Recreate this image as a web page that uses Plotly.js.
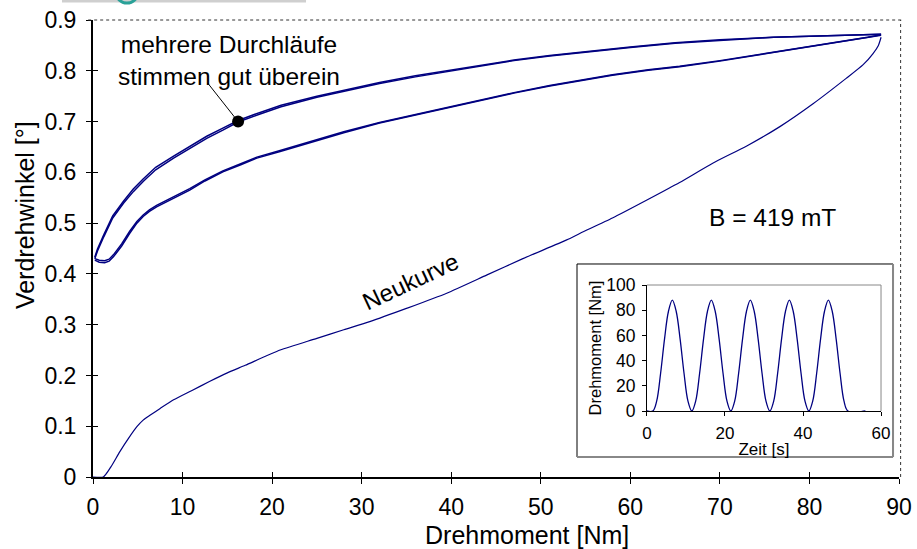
<!DOCTYPE html>
<html>
<head>
<meta charset="utf-8">
<script src="https://cdn.plot.ly/plotly-3.0.1.min.js"></script>
<style>html,body{margin:0;padding:0;background:#fff;}#chart{width:917px;height:549px;}</style>
</head>
<body>
<div id="chart"></div>
<script>
// Hysteresis loop, upper branch (runs 1 and 2), torque [Nm] vs twist angle [°]
const upX  = [0.2, 0.5, 1.2, 2.2, 3.4, 4.5, 5.6, 7, 9, 11, 12.7, 14.5, 16.2, 18.5, 21, 25, 28, 32, 36, 40, 43, 47, 51, 55, 60, 65, 70, 76, 82, 86, 88];
const upY1 = [0.430, 0.445, 0.473, 0.510, 0.539, 0.562, 0.582, 0.605, 0.628, 0.650, 0.667, 0.683, 0.699, 0.714, 0.729, 0.748, 0.760, 0.775, 0.788, 0.800, 0.809, 0.820, 0.829, 0.837, 0.846, 0.854, 0.860, 0.866, 0.869, 0.871, 0.872];
const upY2 = [0.433, 0.449, 0.477, 0.514, 0.543, 0.567, 0.587, 0.610, 0.632, 0.654, 0.671, 0.687, 0.702, 0.717, 0.732, 0.750, 0.762, 0.777, 0.790, 0.801, 0.810, 0.821, 0.830, 0.838, 0.847, 0.855, 0.861, 0.866, 0.869, 0.871, 0.872];
// lower branch (runs 1 and 2)
const loX  = [0.2, 0.7, 1.3, 1.8, 2.3, 3.2, 4.1, 4.9, 5.6, 6.3, 7.1, 9, 10.8, 12.5, 14.5, 16.5, 18.3, 20.9, 24, 28, 32, 36, 40, 43.2, 47, 51, 54.4, 58, 62, 65.5, 70, 74, 76.7, 80, 84, 86.5, 88];
const loY1 = [0.427, 0.423, 0.422, 0.425, 0.434, 0.455, 0.480, 0.500, 0.513, 0.523, 0.532, 0.549, 0.565, 0.583, 0.601, 0.615, 0.628, 0.641, 0.657, 0.678, 0.697, 0.713, 0.729, 0.742, 0.756, 0.770, 0.780, 0.791, 0.801, 0.808, 0.819, 0.830, 0.838, 0.847, 0.858, 0.865, 0.870];
const loY2 = [0.430, 0.427, 0.426, 0.429, 0.438, 0.459, 0.484, 0.503, 0.516, 0.526, 0.535, 0.552, 0.568, 0.585, 0.603, 0.617, 0.630, 0.643, 0.659, 0.680, 0.698, 0.714, 0.730, 0.743, 0.757, 0.771, 0.781, 0.792, 0.802, 0.809, 0.820, 0.831, 0.839, 0.848, 0.859, 0.866, 0.871];
// Neukurve (virgin curve)
const nkX = [0, 1.15, 2, 3, 4, 4.9, 5.6, 6.4, 7.5, 9, 11, 13, 15, 17, 20.9, 25, 28, 30.9, 35, 39.5, 44, 48, 52.9, 54.4, 58, 61.8, 65.5, 69.2, 73, 76.7, 80.4, 84.1, 86, 87.1, 87.7, 88];
const nkY = [0, 0, 0.020, 0.050, 0.077, 0.099, 0.112, 0.122, 0.135, 0.152, 0.170, 0.188, 0.205, 0.220, 0.250, 0.273, 0.290, 0.306, 0.332, 0.362, 0.398, 0.430, 0.467, 0.480, 0.510, 0.545, 0.580, 0.618, 0.652, 0.690, 0.735, 0.785, 0.812, 0.834, 0.850, 0.866];
// marked point
const dotX = [16.2];
const dotY = [0.70];
// inset: torque over time
const tX = [0, 1.5, 2.5, 3.5, 4.5, 5.5, 6.5, 7.5, 8.5, 9.5, 10.5, 11.5, 12.5, 13.5, 14.5, 15.5, 16.5, 17.5, 18.5, 19.5, 20.5, 21.5, 22.5, 23.5, 24.5, 25.5, 26.5, 27.5, 28.5, 29.5, 30.5, 31.5, 32.5, 33.5, 34.5, 35.5, 36.5, 37.5, 38.5, 39.5, 40.5, 41.5, 42.5, 43.5, 44.5, 45.5, 46.5, 47.5, 48.5, 49.5, 50.5, 51.5, 56];
const tY = [0, 0, 8, 30, 57, 79, 88, 79, 57, 30, 8, 0, 8, 30, 57, 79, 88, 79, 57, 30, 8, 0, 8, 30, 57, 79, 88, 79, 57, 30, 8, 0, 8, 30, 57, 79, 88, 79, 57, 30, 8, 0, 8, 30, 57, 79, 88, 79, 57, 30, 8, 0, 0];
const xTicks = [0, 10, 20, 30, 40, 50, 60, 70, 80, 90];
const yTicks = [0, 0.1, 0.2, 0.3, 0.4, 0.5, 0.6, 0.7, 0.8, 0.9];
const yTickText = ['0', '0.1', '0.2', '0.3', '0.4', '0.5', '0.6', '0.7', '0.8', '0.9'];
const inXTicks = [0, 20, 40, 60];
const inYTicks = [0, 20, 40, 60, 80, 100];

const NAVY = '#000080';
const FONT = 'Liberation Sans, Arial, sans-serif';

const traces = [
  {x: upX, y: upY1, mode: 'lines', line: {color: NAVY, width: 1.5}, hoverinfo: 'skip'},
  {x: upX, y: upY2, mode: 'lines', line: {color: NAVY, width: 1.5}, hoverinfo: 'skip'},
  {x: loX, y: loY1, mode: 'lines', line: {color: NAVY, width: 1.5}, hoverinfo: 'skip'},
  {x: loX, y: loY2, mode: 'lines', line: {color: NAVY, width: 1.5}, hoverinfo: 'skip'},
  {x: nkX, y: nkY, mode: 'lines', line: {color: NAVY, width: 1.2, shape: 'spline', smoothing: 0.6}, hoverinfo: 'skip'},
  {x: dotX, y: dotY, mode: 'markers', marker: {color: '#000', size: 12}, hoverinfo: 'skip'},
  {x: tX, y: tY, xaxis: 'x2', yaxis: 'y2', mode: 'lines', line: {color: NAVY, width: 1.3, shape: 'spline', smoothing: 1}, hoverinfo: 'skip'},
  {x: [], y: [], xaxis: 'x3', yaxis: 'y3', mode: 'lines', hoverinfo: 'skip'}
];

const layout = {
  width: 917, height: 549,
  margin: {l: 93, r: 18, t: 20, b: 72},
  paper_bgcolor: '#fff', plot_bgcolor: '#fff',
  showlegend: false,
  font: {family: FONT, color: '#000', size: 23},
  xaxis: {
    range: [0, 90], tickvals: xTicks, ticks: 'outside', ticklen: 5, tickwidth: 1, tickcolor: '#000',
    showline: true, linecolor: '#000', linewidth: 2, showgrid: false, zeroline: false,
    tickfont: {size: 23}, ticklabelstandoff: 3
  },
  yaxis: {
    range: [0, 0.9], tickvals: yTicks, ticktext: yTickText, ticks: 'outside', ticklen: 5, tickwidth: 1, tickcolor: '#000',
    showline: true, linecolor: '#000', linewidth: 2, showgrid: false, zeroline: false,
    tickfont: {size: 23}, ticklabelstandoff: 5
  },
  xaxis3: {overlaying: 'x', range: [0, 90], tickvals: xTicks, ticks: 'inside', ticklen: 5, tickcolor: '#000',
    showticklabels: false, showline: false, showgrid: false, zeroline: false, anchor: 'y3'},
  yaxis3: {overlaying: 'y', range: [0, 0.9], tickvals: yTicks, ticks: 'inside', ticklen: 5, tickcolor: '#000',
    showticklabels: false, showline: false, showgrid: false, zeroline: false, anchor: 'x3'},
  xaxis2: {
    domain: [0.6873, 0.9777], anchor: 'y2', range: [0, 60], tickvals: inXTicks, ticks: 'outside', ticklen: 4, tickcolor: '#000',
    showline: true, linecolor: '#000', linewidth: 1, showgrid: false, zeroline: false,
    tickfont: {size: 17}, ticklabelstandoff: 3, title: {text: 'Zeit [s]', font: {size: 17}, standoff: 0}
  },
  yaxis2: {
    domain: [0.1444, 0.4201], anchor: 'x2', range: [0, 100], tickvals: inYTicks, ticks: 'outside', ticklen: 4, tickcolor: '#000',
    showline: true, linecolor: '#000', linewidth: 1, showgrid: false, zeroline: false,
    tickfont: {size: 17.5}, ticklabelstandoff: 3, title: {text: 'Drehmoment [Nm]', font: {size: 16.5}, standoff: 0}
  },
  shapes: [
    // inset frame
    {type: 'rect', xref: 'paper', yref: 'paper', x0: 0.6005, x1: 0.9926, y0: 0.0438, y1: 0.4661,
      line: {color: '#000', width: 1}, fillcolor: '#fff', layer: 'below'},
    {type: 'line', xref: 'paper', yref: 'paper', x0: 0.9926, x1: 0.9926, y0: 0.0438, y1: 0.4661, line: {color: '#888', width: 2}},
    {type: 'line', xref: 'paper', yref: 'paper', x0: 0.6005, x1: 0.9926, y0: 0.0438, y1: 0.0438, line: {color: '#888', width: 2}},
    // inset plot top/right border
    {type: 'line', xref: 'paper', yref: 'paper', x0: 0.6873, x1: 0.9777, y0: 0.4201, y1: 0.4201, line: {color: '#888', width: 1}},
    {type: 'line', xref: 'paper', yref: 'paper', x0: 0.9777, x1: 0.9777, y0: 0.1444, y1: 0.4201, line: {color: '#888', width: 1}},
    // main plot top/right dotted border
    {type: 'line', xref: 'paper', yref: 'paper', x0: -0.006, x1: 1.004, y0: 1, y1: 1, line: {color: '#333', width: 1, dash: 'dot'}},
    {type: 'line', xref: 'paper', yref: 'paper', x0: 1.002, x1: 1.002, y0: 0, y1: 1, line: {color: '#333', width: 1, dash: 'dot'}},
    // leader line of the annotation
    {type: 'line', xref: 'x', yref: 'y', x0: 12.8, y0: 0.776, x1: 16.2, y1: 0.70, line: {color: '#000', width: 1}},
    // remnant of a logo at the top edge
    {type: 'rect', xref: 'paper', yref: 'paper', x0: -0.0385, x1: 0.2643, y0: 1.0383, y1: 1.05, line: {width: 0}, fillcolor: '#cfcfcf'},
    {type: 'circle', xref: 'paper', yref: 'paper', x0: 0.0285, x1: 0.0558, y0: 1.037, y1: 1.085, line: {color: '#2aa198', width: 3}}
  ],
  annotations: [
    {x: 15.2, y: 0.821, xref: 'x', yref: 'y', text: 'mehrere Durchläufe<br>stimmen gut überein', showarrow: false,
      font: {size: 24.5}, align: 'center', xanchor: 'center', yanchor: 'middle'},
    {x: 75.9, y: 0.512, xref: 'x', yref: 'y', text: 'B = 419 mT', showarrow: false, font: {size: 24.5}, xanchor: 'center', yanchor: 'middle'},
    {x: 35.4, y: 0.386, xref: 'x', yref: 'y', text: 'Neukurve', showarrow: false, font: {size: 24}, textangle: -25, xanchor: 'center', yanchor: 'middle'},
    {x: 0.5385, y: -0.127, xref: 'paper', yref: 'paper', text: 'Drehmoment [Nm]', showarrow: false, font: {size: 25}, xanchor: 'center', yanchor: 'middle'},
    {x: -0.0844, y: 0.573, xref: 'paper', yref: 'paper', text: 'Verdrehwinkel [°]', showarrow: false, font: {size: 25}, textangle: -90, xanchor: 'center', yanchor: 'middle'}
  ]
};

Plotly.newPlot('chart', traces, layout, {displayModeBar: false, staticPlot: true});
</script>
</body>
</html>
